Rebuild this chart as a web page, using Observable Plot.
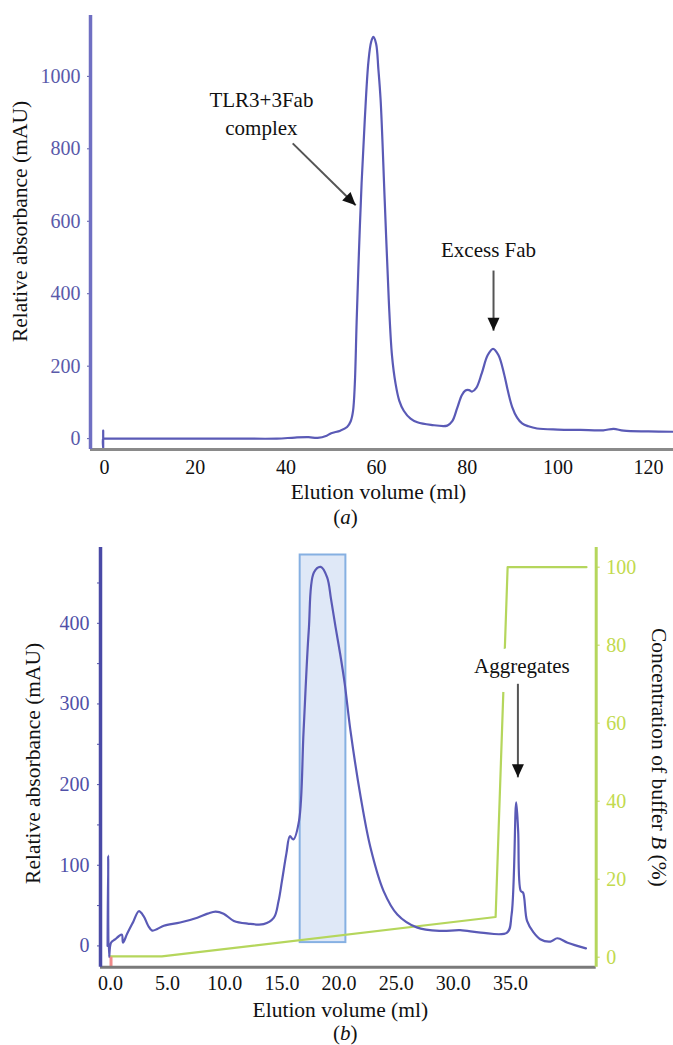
<!DOCTYPE html>
<html>
<head>
<meta charset="utf-8">
<script src="https://cdn.jsdelivr.net/npm/d3@7"></script>
<script src="https://cdn.jsdelivr.net/npm/@observablehq/plot@0.6"></script>
<style>
  html, body { margin: 0; padding: 0; background: white; }
  #chart svg { display: block; font-family: "Liberation Serif", serif; }
</style>
</head>
<body>
<div id="chart"></div>
<script>
// ---------- Panel (a): size-exclusion chromatogram ----------
const aVolume = [-0.3, -0.3, -0.3, 0, 10, 20, 30, 38, 42, 45, 47, 49, 50, 52, 53.5, 54.3, 54.8, 55.2, 55.6, 56.1, 56.7, 57.4, 58.2, 58.8, 59.3, 59.9, 60.4, 60.9, 61.8, 62.7, 63.4, 64.2, 65, 66, 67.5, 69, 72, 75.6, 76.7, 77.8, 78.8, 79.6, 80.4, 81.1, 82, 83.2, 84.5, 85.7, 86.9, 88.1, 89, 89.9, 91, 92.1, 93.5, 95.4, 100, 105, 110, 112.3, 114.5, 120, 125.5];
const aAbsorb = [22, -25, 0, 0, 0, 0, 0, 0, 3, 4, 2, 8, 15, 22, 32, 48, 75, 150, 320, 510, 705, 880, 1040, 1095, 1109, 1090, 1020, 934, 657, 381, 230, 151, 105, 77, 55, 45, 38, 36, 48, 85, 120, 133, 134, 130, 140, 180, 230, 248, 230, 180, 130, 88, 58, 42, 34, 28, 25, 24, 23, 27, 22, 20, 19];
const aXTicks = [0, 20, 40, 60, 80, 100, 120];
const aYTicks = [0, 200, 400, 600, 800, 1000];
const aLabels = ["TLR3+3Fab", "complex", "Excess Fab"];
const aLabelX = [34.6, 34.6, 84.7];
const aLabelY = [934, 856, 519];
const aArrowX1 = [41.5, 85.8];
const aArrowY1 = [815, 464];
const aArrowX2 = [55.4, 85.8];
const aArrowY2 = [644, 298];
const aArrowRot = [134, 180];

// ---------- Panel (b): chromatogram with buffer B gradient ----------
const bVolume = [-0.25, -0.2, -0.12, 0.05, 0.4, 0.73, 1.0, 1.1, 1.46, 2.0, 2.48, 2.9, 3.3, 3.65, 4.1, 4.67, 6.1, 7.6, 8.5, 9.2, 9.9, 10.8, 12, 13.4, 14.3, 14.7, 15.0, 15.4, 15.7, 16.0, 16.5, 16.9, 17.35, 17.8, 18.4, 18.96, 19.3, 19.7, 20.1, 20.5, 21.0, 21.9, 22.75, 23.9, 25.1, 26.8, 28.9, 30.6, 32.4, 34.7, 35.1, 35.5, 35.67, 35.9, 36.1, 36.45, 37.0, 37.6, 38.5, 39.1, 40.0, 41.6];
const bAbsorb = [0, 112, -14, 4, 8, 12, 14, 4, 15, 30, 43, 37, 25, 19, 21, 25, 29, 35, 40, 42.6, 40, 31, 27.7, 27, 35, 55, 80, 115, 136, 132, 155, 267, 391, 463, 470, 457, 430, 395, 362, 325, 267, 184, 122, 68, 39, 23, 18.6, 19.5, 16.5, 16.5, 39, 178, 143, 68, 66, 31, 17, 8.3, 5.4, 9.5, 4, -3];
const bufVolume = [0, 4.5, 33.7, 34.75, 41.65];
const bufPercent = [0.2, 0.2, 10.3, 100, 100];
const bXTicks = [0, 5, 10, 15, 20, 25, 30, 35];
const bYTicks = [0, 50, 100, 150, 200, 250, 300, 350, 400, 450];
const bRightTicks = [0, 20, 40, 60, 80, 100];
const fraction = {x1: 16.6, x2: 20.6, y1: 4.1, y2: 484.7};
const bLabel = ["Aggregates"];
const bLabelX = [36.0];
const bLabelY = [347];
const bArrowX = [35.65];
const bArrowY1 = [325];
const bArrowY2 = [209];

// mapping of the right (% buffer B) axis onto the left (mAU) scale
const toLeft = p => -14.0 + 4.836 * p;
const fromLeft = v => (v + 14.0) / 4.836;

const FONT = "Liberation Serif";
const BLUE = "#5a5ab6";
const GREEN = "#b5d65c";
const T = {fontFamily: FONT, fill: "#111"};

const aData = aVolume.map((v, i) => ({v, a: aAbsorb[i]}));
const aText = aLabels.map((t, i) => ({t, x: aLabelX[i], y: aLabelY[i]}));
const aArrows = aArrowX1.map((x1, i) => ({x1, y1: aArrowY1[i], x2: aArrowX2[i], y2: aArrowY2[i], r: aArrowRot[i]}));

const aXDom = [-3.1, 125.5], aYDom = [-30, 1168];

const plotA = Plot.plot({
  width: 673, height: 530,
  marginLeft: 90, marginRight: 0, marginTop: 15, marginBottom: 81,
  x: {domain: aXDom},
  y: {domain: aYDom},
  style: {fontFamily: FONT, background: "white", color: "black"},
  marks: [
    Plot.line(aData, {x: "v", y: "a", stroke: BLUE, strokeWidth: 2.2, curve: "catmull-rom", clip: true}),
    Plot.axisY({ticks: aYTicks, tickFormat: d => String(d), tickSize: 3, tickPadding: 7, fontSize: 20, fontFamily: FONT, color: "#5a5aaa", label: null}),
    Plot.axisX({ticks: aXTicks, tickFormat: d => String(d), tickSize: 0, tickPadding: 10, fontSize: 20, fontFamily: FONT, color: "#111", label: null}),
    Plot.ruleY([aYDom[0]], {stroke: "#8a8a8a", strokeWidth: 3}),
    Plot.ruleX([aXDom[0]], {stroke: "#6f6fc2", strokeWidth: 3.5}),
    Plot.text(aText, {x: "x", y: "y", text: "t", fontSize: 21, ...T}),
    Plot.link(aArrows, {x1: "x1", y1: "y1", x2: "x2", y2: "y2", stroke: "#555", strokeWidth: 2}),
    Plot.vector(aArrows, {x: "x2", y: "y2", rotate: "r", length: 13, r: 6, shape: "spike", anchor: "end", fill: "#111", stroke: "none"}),
    Plot.text(["Relative absorbance (mAU)"], {text: d => d, frameAnchor: "left", textAnchor: "middle", lineAnchor: "middle", dx: -70, dy: -11, rotate: -90, fontSize: 21.5, ...T}),
    Plot.text(["Elution volume (ml)"], {text: d => d, frameAnchor: "bottom", textAnchor: "middle", lineAnchor: "middle", dx: -3.5, dy: 43, fontSize: 21.5, ...T}),
    Plot.text(["(a)"], {text: d => d, frameAnchor: "bottom", textAnchor: "middle", lineAnchor: "middle", dx: -36.5, dy: 68, fontSize: 21, ...T})
  ]
});

const bData = bVolume.map((v, i) => ({v, a: bAbsorb[i]}));
const bufData = bufVolume.map((v, i) => ({v, a: toLeft(bufPercent[i])}));
const bText = bLabel.map((t, i) => ({t, x: bLabelX[i], y: bLabelY[i]}));
const bArrows = bArrowX.map((x, i) => ({x, y1: bArrowY1[i], y2: bArrowY2[i]}));

const bXDom = [-0.87, 42.5], bYDom = [-26.4, 494];

const plotB = Plot.plot({
  width: 673, height: 515,
  marginLeft: 100, marginRight: 77.3, marginTop: 17, marginBottom: 78.3,
  x: {domain: bXDom},
  y: {domain: bYDom},
  style: {fontFamily: FONT, background: "white", color: "black"},
  marks: [
    Plot.rect([fraction], {x1: "x1", x2: "x2", y1: "y1", y2: "y2", fill: "#dfe8f7", stroke: "#86b0e2", strokeWidth: 2}),
    Plot.line(bufData, {x: "v", y: "a", stroke: GREEN, strokeWidth: 2.2}),
    Plot.line(bData, {x: "v", y: "a", stroke: BLUE, strokeWidth: 2.2, curve: "catmull-rom"}),
    Plot.ruleX([0.05], {y1: -14, y2: bYDom[0], stroke: "#f08a8a", strokeWidth: 3}),
    Plot.axisY({ticks: bYTicks, tickFormat: d => d % 100 === 0 ? String(d) : "", tickSize: 3, tickPadding: 8, fontSize: 20, fontFamily: FONT, color: "#5050a8", label: null}),
    Plot.axisY({anchor: "right", ticks: bRightTicks.map(toLeft), tickFormat: v => String(Math.round(fromLeft(v))), tickSize: 3, tickPadding: 7, fontSize: 20, fontFamily: FONT, color: "#c2da4e", label: null}),
    Plot.axisX({ticks: bXTicks, tickFormat: d => d.toFixed(1), tickSize: 0, tickPadding: 9, fontSize: 20, fontFamily: FONT, color: "#111", label: null}),
    Plot.ruleY([bYDom[0]], {stroke: "#7a7a7a", strokeWidth: 3}),
    Plot.ruleX([bXDom[0]], {stroke: "#4a4aa6", strokeWidth: 3.5}),
    Plot.ruleX([bXDom[1]], {stroke: GREEN, strokeWidth: 3}),
    Plot.text(bText, {x: "x", y: "y", text: "t", fontSize: 21, fontFamily: FONT, fill: "#111", stroke: "white", strokeWidth: 28, strokeLinejoin: "round"}),
    Plot.link(bArrows, {x1: "x", y1: "y1", x2: "x", y2: "y2", stroke: "#555", strokeWidth: 2}),
    Plot.vector(bArrows, {x: "x", y: "y2", rotate: 180, length: 13, r: 6, shape: "spike", anchor: "end", fill: "#111", stroke: "none"}),
    Plot.text(["Relative absorbance (mAU)"], {text: d => d, frameAnchor: "left", textAnchor: "middle", lineAnchor: "middle", dx: -67, dy: 6, rotate: -90, fontSize: 21.5, ...T}),
    Plot.text(["Concentration of buffer B (%)"], {text: d => d, frameAnchor: "right", textAnchor: "middle", lineAnchor: "middle", dx: 62.3, dy: 0, rotate: 90, fontSize: 21.5, ...T}),
    Plot.text(["Elution volume (ml)"], {text: d => d, frameAnchor: "bottom", textAnchor: "middle", lineAnchor: "middle", dx: -8, dy: 43.3, fontSize: 21.5, ...T}),
    Plot.text(["(b)"], {text: d => d, frameAnchor: "bottom", textAnchor: "middle", lineAnchor: "middle", dx: -3, dy: 66.3, fontSize: 21, ...T})
  ]
});

// italicise single letters inside labels
function italicize(svg, full, pre, it, post) {
  svg.querySelectorAll("text").forEach(t => {
    if (t.textContent === full && t.children.length === 0) {
      t.textContent = "";
      const ns = "http://www.w3.org/2000/svg";
      [[pre, false], [it, true], [post, false]].forEach(([s, ital]) => {
        if (!s) return;
        const sp = document.createElementNS(ns, "tspan");
        sp.textContent = s;
        if (ital) sp.setAttribute("font-style", "italic");
        t.appendChild(sp);
      });
    }
  });
}
italicize(plotA, "(a)", "(", "a", ")");
italicize(plotB, "(b)", "(", "b", ")");
italicize(plotB, "Concentration of buffer B (%)", "Concentration of buffer ", "B", " (%)");

const c = document.getElementById("chart");
c.appendChild(plotA);
c.appendChild(plotB);
</script>
</body>
</html>
